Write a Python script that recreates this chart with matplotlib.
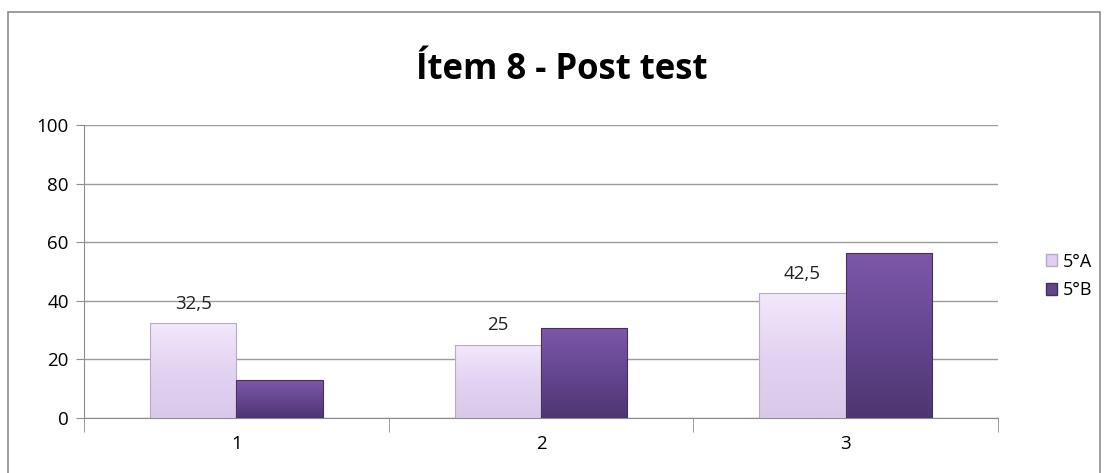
import matplotlib.pyplot as plt
import numpy as np
from matplotlib.patches import Rectangle
from matplotlib.colors import LinearSegmentedColormap

categories = ["1", "2", "3"]
series_names = ["5°A", "5°B"]
values_a = [32.5, 25, 42.5]
values_b = [12.8, 30.8, 56.4]
labels_a = ["32,5", "25", "42,5"]

plt.rcParams['font.family'] = ['Open Sans', 'DejaVu Sans']

W, H = 1106, 473
fig = plt.figure(figsize=(W/100, H/100), dpi=100)
fig.patch.set_facecolor('white')

# outer border
fig.add_artist(Rectangle((8/W, -0.01), (1100-8)/W, (H-12)/H + 0.01, transform=fig.transFigure,
                         fill=False, edgecolor='#8c8c8c', linewidth=1.2))

ax = fig.add_axes([84/W, (H-418)/H, (998-84)/W, (418-125)/H])
x = np.arange(len(categories))
bw = 0.283
col_a = '#E5D5F3'
col_b = '#634589'
ba = ax.bar(x - bw/2, values_a, bw, color=col_a, edgecolor='#b9a8cc', linewidth=0.8, zorder=3, label=series_names[0])
bb = ax.bar(x + bw/2, values_b, bw, color=col_b, edgecolor='#43305e', linewidth=0.8, zorder=3, label=series_names[1])

cmap_a = LinearSegmentedColormap.from_list('a', ['#F2E8FB', '#E3D3F2', '#D9C8EA'])
cmap_b = LinearSegmentedColormap.from_list('b', ['#7E58AA', '#654690', '#4E3671'])
grad = np.linspace(0, 1, 100).reshape(-1, 1)
for bars, cm in ((ba, cmap_a), (bb, cmap_b)):
    for r in bars:
        x0, y0 = r.get_x(), r.get_y()
        w, h = r.get_width(), r.get_height()
        im = ax.imshow(grad, cmap=cm, aspect='auto', extent=(x0, x0 + w, y0, y0 + h),
                       origin='upper', zorder=3.5)
        im.set_clip_path(r)
        r.set_facecolor('none')
        r.set_zorder(4)

for i, v in enumerate(values_a):
    ax.text(x[i] - bw/2, v + 3.5, labels_a[i], ha='center', va='bottom', fontsize=13.5, color='#222222')

ax.set_xlim(-0.5, 2.5)
ax.set_ylim(0, 100)
ax.set_yticks([0, 20, 40, 60, 80, 100])
ax.tick_params(axis='y', labelsize=13.5, length=6, color='#8c8c8c', pad=5)
ax.yaxis.grid(True, color='#9c9c9c', linewidth=1, zorder=0)
ax.set_xticks(x)
ax.set_xticklabels(categories, fontsize=13.5)
ax.tick_params(axis='x', length=0, pad=12)
ax.set_xticks([-0.5, 0.5, 1.5, 2.5], minor=True)
ax.tick_params(axis='x', which='minor', length=10, color='#8c8c8c')
for s in ['top', 'right']:
    ax.spines[s].set_visible(False)
ax.spines['left'].set_color('#8c8c8c')
ax.spines['bottom'].set_color('#8c8c8c')

fig.text(562/W, 1 - 70/H, "Ítem 8 - Post test", ha='center', va='center', fontsize=25, fontweight='bold')

from matplotlib.patches import Patch
h1 = Patch(facecolor='#E0CFF0', edgecolor='#b9a8cc')
h2 = Patch(facecolor=col_b, edgecolor='#43305e')
leg = fig.legend(handles=[h1, h2], labels=series_names, loc='center left',
                 bbox_to_anchor=(1030/W, 1 - 276/H), frameon=False, fontsize=13,
                 handlelength=0.6, handleheight=0.6, handletextpad=0.3, labelspacing=0.6)

fig.savefig('out.png', dpi=100)
